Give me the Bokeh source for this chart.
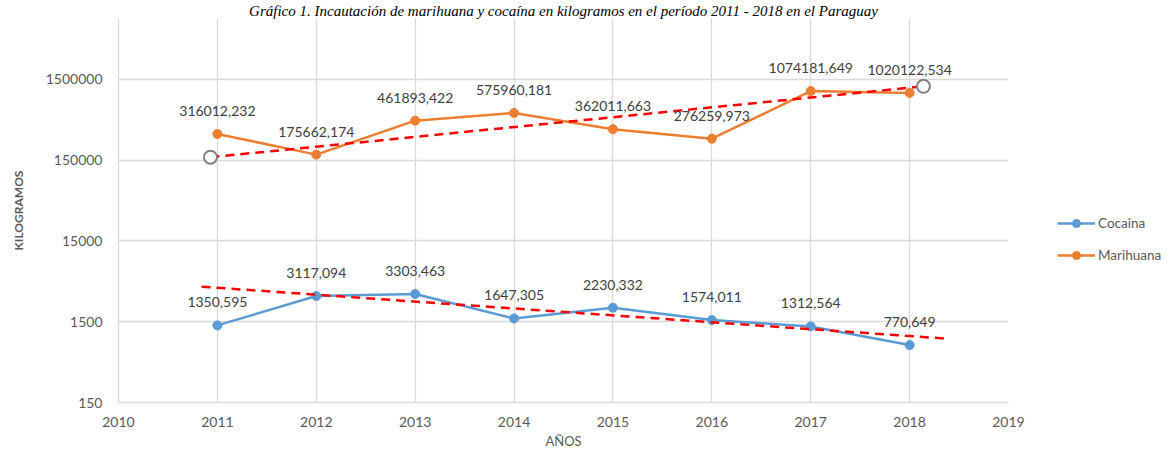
from bokeh.plotting import figure
from bokeh.models import FixedTicker, NumeralTickFormatter, Legend, LegendItem, ColumnDataSource
from bokeh.embed import file_html
from bokeh.resources import INLINE
from bokeh.core.properties import value

years = [2011, 2012, 2013, 2014, 2015, 2016, 2017, 2018]
cocaina = [1350.595, 3117.094, 3303.463, 1647.305, 2230.332, 1574.011, 1312.564, 770.649]
marihuana = [316012.232, 175662.174, 461893.422, 575960.181, 362011.663, 276259.973, 1074181.649, 1020122.534]
cocaina_labels = ["1350,595", "3117,094", "3303,463", "1647,305", "2230,332", "1574,011", "1312,564", "770,649"]
marihuana_labels = ["316012,232", "175662,174", "461893,422", "575960,181", "362011,663", "276259,973", "1074181,649", "1020122,534"]

# trend lines (end points)
trend_coc_x = [2010.84, 2018.38]
trend_coc_y = [4070, 925]
trend_mar_x = [2010.93, 2018.14]
trend_mar_y = [163000, 1230000]

x_ticks = [2010, 2011, 2012, 2013, 2014, 2015, 2016, 2017, 2018, 2019]
y_ticks = [150, 1500, 15000, 150000, 1500000]

title_text = "Gráfico 1. Incautación de marihuana y cocaína en kilogramos en el período 2011 - 2018 en el Paraguay"

BLUE = "#5B9BD5"
ORANGE = "#ED7D31"
GRID = "#d9d9d9"
TXT = "#595959"
FONT = "Lato"

p = figure(frame_width=890, frame_height=384, y_axis_type="log",
           x_range=(2010, 2019), y_range=(150, 8.5e6),
           output_backend="svg", toolbar_location=None,
           min_border_left=118, min_border_right=149, min_border_bottom=50, min_border_top=0)

p.title.text = title_text
p.title.text_font = "Liberation Serif"
p.title.text_font_style = "italic"
p.title.text_font_size = "15px"
p.title.text_color = "#000000"
p.title.align = "center"
p.title.standoff = 0
p.title.offset = 0

p.outline_line_color = None
p.background_fill_color = "white"

for ax in (p.xaxis[0], p.yaxis[0]):
    ax.axis_line_color = GRID
    ax.axis_line_width = 1.3
    ax.major_tick_line_color = None
    ax.minor_tick_line_color = None
    ax.major_tick_out = 0
    ax.major_tick_in = 0
    ax.minor_tick_out = 0
    ax.minor_tick_in = 0
    ax.major_label_text_font = FONT
    ax.major_label_text_font_size = "14px"
    ax.major_label_text_color = TXT
    ax.axis_label_text_font = FONT
    ax.axis_label_text_color = TXT
    ax.axis_label_text_font_style = "normal"

p.xaxis.ticker = FixedTicker(ticks=x_ticks)
p.yaxis.ticker = FixedTicker(ticks=y_ticks, minor_ticks=[])
p.yaxis.formatter = NumeralTickFormatter(format="0")
p.xaxis.major_label_standoff = 14
p.yaxis.major_label_standoff = 16

p.xaxis.axis_label = "AÑOS"
p.xaxis.axis_label_text_font_size = "13px"
p.xaxis.axis_label_standoff = 3
p.yaxis.axis_label = "KILOGRAMOS"
p.yaxis.axis_label_text_font_size = "12px"
p.yaxis.axis_label_text_font_style = "bold"
p.yaxis.axis_label_standoff = 17

p.xgrid.ticker = FixedTicker(ticks=x_ticks)
p.ygrid.ticker = FixedTicker(ticks=y_ticks, minor_ticks=[])
p.xgrid.grid_line_color = GRID
p.ygrid.grid_line_color = GRID
p.xgrid.grid_line_width = 1.3
p.ygrid.grid_line_width = 1.3

src_c = ColumnDataSource(dict(x=years, y=cocaina, lab=cocaina_labels))
src_m = ColumnDataSource(dict(x=years, y=marihuana, lab=marihuana_labels))

lc = p.line("x", "y", source=src_c, line_color=BLUE, line_width=2.5)
sc = p.scatter("x", "y", source=src_c, size=9, fill_color=BLUE, line_color=BLUE)
lm = p.line("x", "y", source=src_m, line_color=ORANGE, line_width=2.5)
sm = p.scatter("x", "y", source=src_m, size=9, fill_color=ORANGE, line_color=ORANGE)

p.line(trend_coc_x, trend_coc_y, line_color="#FF0000", line_width=2.5, line_dash="9 6")
p.line(trend_mar_x, trend_mar_y, line_color="#FF0000", line_width=2.5, line_dash="9 6")
p.scatter(trend_mar_x, trend_mar_y, size=13, fill_color="white", line_color="#808080", line_width=2)

for src in (src_c, src_m):
    p.text("x", "y", text="lab", source=src, y_offset=-23, text_align="center",
           text_baseline="middle", text_font=value(FONT), text_font_size="14px",
           text_color="#404040")

legend = Legend(items=[LegendItem(label="Cocaina", renderers=[lc, sc]),
                       LegendItem(label="Marihuana", renderers=[lm, sm])],
                location=(49, 137), orientation="vertical")
legend.border_line_color = None
legend.background_fill_alpha = 0
legend.label_text_font = FONT
legend.label_text_font_size = "13.5px"
legend.label_text_color = TXT
legend.glyph_width = 38
legend.glyph_height = 20
legend.label_height = 20
legend.spacing = 12
legend.padding = 0
legend.margin = 0
legend.label_standoff = 3
p.add_layout(legend, "right")

open("out.html", "w").write(file_html(p, INLINE))
